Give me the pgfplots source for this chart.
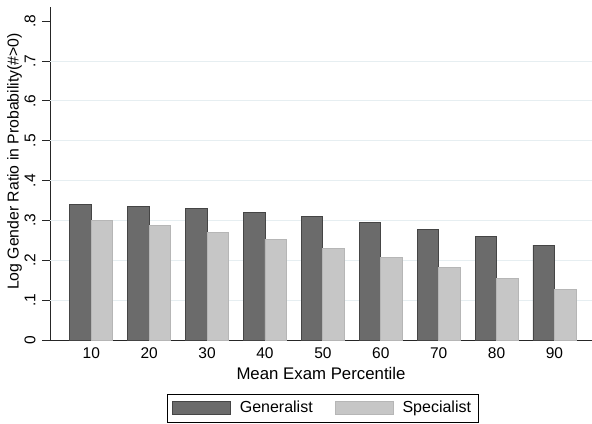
\documentclass[border=0pt]{standalone}
\usepackage{fontspec}
\setmainfont{Liberation Sans}
\usepackage{pgfplots}
\pgfplotsset{compat=1.18}

\definecolor{genfill}{HTML}{6B6B6B}
\definecolor{gendraw}{HTML}{454545}
\definecolor{spefill}{HTML}{C6C6C6}
\definecolor{spedraw}{HTML}{B6B6B6}
\definecolor{gridcol}{HTML}{E6EEF1}

\begin{document}
\fontsize{16bp}{19bp}\selectfont
\begin{tikzpicture}
\begin{axis}[
  at={(0,0)}, anchor=south west,
  scale only axis,
  width=542bp, height=333bp,
  xmin=-0.713, xmax=8.648,
  ymin=0, ymax=0.8357,
  axis lines*=left,
  axis line style={draw=black!85, line width=0.9bp},
  ybar=0pt,
  bar width=21.5bp,
  xtick={0,1,2,3,4,5,6,7,8},
  xticklabels={10,20,30,40,50,60,70,80,90},
  xtick style={draw=none},
  xticklabel style={anchor=base, inner sep=0pt, font=\fontsize{15.5bp}{18bp}\selectfont},
  xticklabel shift={10bp},
  ytick={0,0.1,0.2,0.3,0.4,0.5,0.6,0.7,0.8},
  yticklabels={0,.1,.2,.3,.4,.5,.6,.7,.8},
  ytick style={draw=black!85, line width=0.9bp},
  tick align=outside,
  major tick length=8bp,
  yticklabel style={rotate=90, anchor=base, inner sep=0pt, font=\fontsize{15.5bp}{18bp}\selectfont},
  yticklabel shift={6.5bp},
  /pgf/number format/assume math mode=true,
  extra y ticks={0.1,0.2,0.3,0.4,0.5,0.6,0.7},
  extra y tick labels={},
  extra y tick style={grid=major, major tick length=0pt, tick style={draw=none}},
  major grid style={draw=gridcol, line width=1bp},
  xlabel={Mean Exam Percentile},
  ylabel={Log Gender Ratio in Probability(\#>0)},
  xlabel style={at={(axis description cs:0.5,-0.1201)}, anchor=base, inner sep=0pt, font=\fontsize{16.8bp}{19bp}\selectfont},
  ylabel style={at={(axis description cs:-0.0581,0.536)}, anchor=base, inner sep=0pt, rotate=0, font=\fontsize{15.8bp}{19bp}\selectfont},
  legend columns=2,
  legend image code/.code={\draw[#1, line width=0.8bp] (0bp,-6.5bp) rectangle (58bp,6.5bp);},
  legend style={at={(axis description cs:0.5028,-0.2042)}, anchor=center,
    draw=black, line width=0.8bp, inner xsep=5bp, inner ysep=5bp,
    font=\fontsize{16bp}{19bp}\selectfont,
    /tikz/column 1/.style={column sep=7bp},
    /tikz/column 2/.style={column sep=20bp},
    /tikz/column 3/.style={column sep=7bp}},
  clip=false,
]
% Generalist
\addplot[fill=genfill, draw=gendraw, line width=0.9bp, bar shift=-10.75bp] coordinates {
  (0,0.341) (1,0.336) (2,0.330) (3,0.321) (4,0.310)
  (5,0.295) (6,0.278) (7,0.259) (8,0.238)};
% Specialist
\addplot[fill=spefill, draw=spedraw, line width=0.9bp, bar shift=10.75bp] coordinates {
  (0,0.300) (1,0.288) (2,0.270) (3,0.253) (4,0.230)
  (5,0.208) (6,0.183) (7,0.155) (8,0.127)};
\legend{Generalist,Specialist}
\end{axis}
\pgfresetboundingbox
\path[use as bounding box] (-50bp,-84bp) rectangle (542bp,340bp);
\end{tikzpicture}
\end{document}
